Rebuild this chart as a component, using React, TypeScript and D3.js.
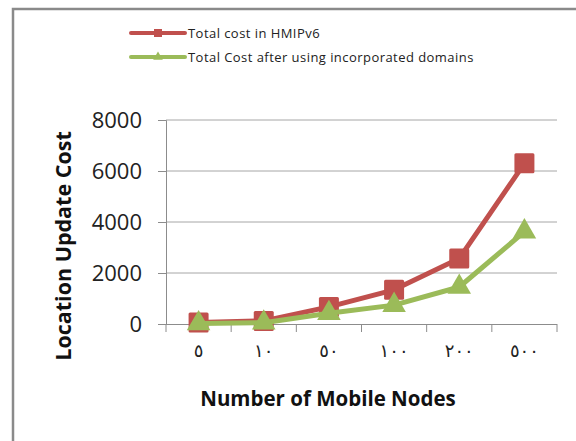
import { useEffect, useRef } from "react";
import * as d3 from "d3";

const categories = ["٥", "١٠", "٥٠", "١٠٠", "٢٠٠", "٥٠٠"];
const hmipv6Cost = [60, 120, 670, 1340, 2570, 6300];
const domainsCost = [20, 50, 420, 740, 1450, 3620];
const yTicks = [0, 2000, 4000, 6000, 8000];

const RED = "#C0504D";
const GREEN = "#9BBB59";

export default function App() {
  const ref = useRef<HTMLDivElement>(null);

  useEffect(() => {
    const container = d3.select(ref.current);
    container.selectAll("*").remove();

    const width = 576, height = 441;
    const svg = container.append("svg")
      .attr("width", width)
      .attr("height", height)
      .style("position", "absolute")
      .style("left", "0px")
      .style("top", "0px")
      .style("background", "#fff");

    // outer chart border (only top and left visible)
    svg.append("path")
      .attr("d", `M13,${height} L13,9 L${width},9`)
      .attr("fill", "none")
      .attr("stroke", "#8a8a8a")
      .attr("stroke-width", 2.5);

    const left = 166, right = 557, top = 120, bottom = 324;

    const x = d3.scaleBand()
      .domain(categories)
      .range([left, right]);

    const y = d3.scaleLinear()
      .domain([0, 8000])
      .range([bottom, top]);

    // gridlines
    svg.append("g")
      .selectAll("line")
      .data(yTicks.filter(t => t > 0))
      .join("line")
        .attr("x1", left)
        .attr("x2", right)
        .attr("y1", d => y(d))
        .attr("y2", d => y(d))
        .attr("stroke", "#a6a6a6")
        .attr("stroke-width", 1);

    // y axis
    const yAxis = svg.append("g")
      .attr("transform", `translate(${left},0)`)
      .call(d3.axisLeft(y).tickValues(yTicks).tickSize(8).tickPadding(16).tickFormat(d3.format("d")));
    yAxis.selectAll("path, line").attr("stroke", "#8c8c8c");
    yAxis.selectAll("text")
      .attr("font-family", "Open Sans")
      .attr("font-size", 22)
      .attr("fill", "#222");

    // x axis
    const xAxis = svg.append("g")
      .attr("transform", `translate(0,${bottom})`)
      .call(d3.axisBottom(x).tickSize(0).tickPadding(20));
    xAxis.selectAll("path").attr("stroke", "#8c8c8c").attr("d", `M${left - 8},0.5H${right}`);
    xAxis.selectAll("text")
      .attr("font-family", "DejaVu Sans")
      .attr("font-size", 18)
      .attr("letter-spacing", 6)
      .attr("fill", "#222");
    svg.append("g")
      .selectAll("line")
      .data(d3.range(categories.length + 1))
      .join("line")
        .attr("x1", i => left + i * x.step())
        .attr("x2", i => left + i * x.step())
        .attr("y1", bottom)
        .attr("y2", bottom + 8)
        .attr("stroke", "#8c8c8c");

    const cx = (i: number) => (x(categories[i]) as number) + x.bandwidth() / 2;
    const line = d3.line<number>()
      .x((_, i) => cx(i))
      .y(d => y(d));

    // red series
    svg.append("path")
      .datum(hmipv6Cost)
      .attr("d", line)
      .attr("fill", "none")
      .attr("stroke", RED)
      .attr("stroke-width", 5)
      .attr("stroke-linejoin", "round");
    svg.append("g")
      .selectAll("rect")
      .data(hmipv6Cost)
      .join("rect")
        .attr("x", (_, i) => cx(i) - 10)
        .attr("y", d => y(d) - 10)
        .attr("width", 20)
        .attr("height", 20)
        .attr("rx", 1.5)
        .attr("fill", RED);

    // green series
    const tri = d3.symbol().type(d3.symbolTriangle).size(240);
    svg.append("path")
      .datum(domainsCost)
      .attr("d", line)
      .attr("fill", "none")
      .attr("stroke", GREEN)
      .attr("stroke-width", 5)
      .attr("stroke-linejoin", "round");
    svg.append("g")
      .selectAll("path")
      .data(domainsCost)
      .join("path")
        .attr("transform", (d, i) => `translate(${cx(i)},${y(d)})`)
        .attr("d", tri)
        .attr("fill", GREEN);

    // legend
    const legend = [
      { label: "Total cost in HMIPv6", color: RED, shape: "square" },
      { label: "Total Cost after using incorporated domains", color: GREEN, shape: "tri" },
    ];
    const lg = svg.append("g");
    legend.forEach((item, i) => {
      const ly = 33 + i * 24;
      lg.append("line")
        .attr("x1", 131).attr("x2", 185)
        .attr("y1", ly).attr("y2", ly)
        .attr("stroke", item.color)
        .attr("stroke-width", 4)
        .attr("stroke-linecap", "round");
      if (item.shape === "square") {
        lg.append("rect")
          .attr("x", 154).attr("y", ly - 4)
          .attr("width", 8).attr("height", 8)
          .attr("fill", item.color);
      } else {
        lg.append("path")
          .attr("transform", `translate(158,${ly})`)
          .attr("d", d3.symbol().type(d3.symbolTriangle).size(40)())
          .attr("fill", item.color);
      }
      lg.append("text")
        .attr("x", 188)
        .attr("y", ly + 4.5)
        .attr("font-family", "Open Sans")
        .attr("font-size", 13)
        .attr("letter-spacing", 0.45)
        .attr("fill", "#222")
        .text(item.label);
    });

    // axis titles
    svg.append("text")
      .attr("transform", `translate(71,246) rotate(-90)`)
      .attr("text-anchor", "middle")
      .attr("font-family", "Open Sans")
      .attr("font-weight", "bold")
      .attr("font-size", 21.5)
      .attr("fill", "#111")
      .text("Location Update Cost");

    svg.append("text")
      .attr("x", 328)
      .attr("y", 406)
      .attr("text-anchor", "middle")
      .attr("font-family", "Open Sans")
      .attr("font-weight", "bold")
      .attr("font-size", 20.5)
      .attr("fill", "#111")
      .text("Number of Mobile Nodes");
  }, []);

  return <div ref={ref}></div>;
}
